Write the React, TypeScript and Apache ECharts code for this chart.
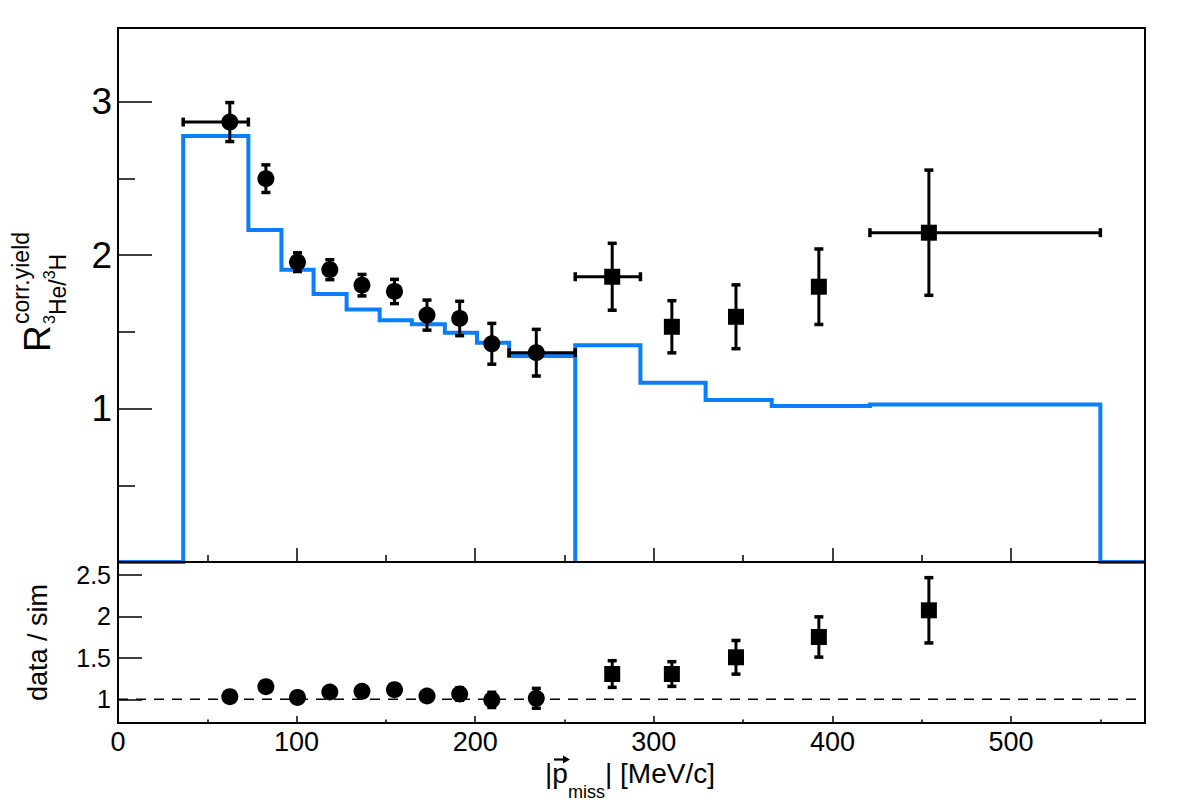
import React, { useEffect, useRef } from "react";
import * as echarts from "echarts";

// Simulated corrected-yield ratio: two histogram pieces, split at 256 MeV/c
const simEdgesLow = [36.5, 73, 91.5, 109.5, 128, 146.5, 164.5, 183, 201, 219, 256];
const simValuesLow = [2.776, 2.163, 1.905, 1.746, 1.646, 1.576, 1.55, 1.494, 1.429, 1.342];
const simEdgesHigh = [256, 292.5, 329, 366, 421, 550];
const simValuesHigh = [1.413, 1.168, 1.055, 1.016, 1.027];

// Measured ratio, low-momentum points (circles)
const circleX = [62.6, 82.8, 100.5, 118.6, 136.6, 154.8, 173.0, 191.3, 209.3, 234.2];
const circleY = [2.867, 2.498, 1.954, 1.905, 1.804, 1.763, 1.609, 1.587, 1.422, 1.364];
const circleErr = [0.127, 0.09, 0.061, 0.065, 0.07, 0.079, 0.098, 0.112, 0.133, 0.152];
const circleXRange: (number[] | null)[] = [[36.5, 73], null, null, null, null, null, null, null, null, [219, 256]];

// Measured ratio, high-momentum points (squares)
const squareX = [276.7, 310.1, 346.0, 392.4, 454.0];
const squareY = [1.859, 1.533, 1.598, 1.794, 2.146];
const squareErr = [0.218, 0.17, 0.208, 0.246, 0.408];
const squareXRange: (number[] | null)[] = [[256, 292.5], null, null, null, [421, 550]];

// data / sim
const circleRatio = [1.031, 1.152, 1.022, 1.088, 1.096, 1.116, 1.04, 1.064, 0.993, 1.012];
const circleRatioErr = [0.045, 0.04, 0.032, 0.037, 0.043, 0.05, 0.063, 0.075, 0.092, 0.12];
const squareRatio = [1.305, 1.305, 1.507, 1.752, 2.074];
const squareRatioErr = [0.161, 0.149, 0.203, 0.243, 0.394];

// Axis ranges and ticks
const X_MIN = 0;
const X_MAX = 575;
const Y_TOP_MAX = 3.48;
const Y_BOT_MIN = 0.714;
const Y_BOT_MAX = 2.657;
const xTicksMajor = [100, 200, 300, 400, 500];
const xTicksMinor = [50, 150, 250, 350, 450, 550];
const xLabels = [0, 100, 200, 300, 400, 500];
const yTopLabels = [1, 2, 3];
const yTopMinor = [0.5, 1.5, 2.5];
const yBottomLabels = [1, 1.5, 2, 2.5];

const FONT = "Liberation Sans";
const BLUE = "#0a7efd";

// Layout
const LEFT = 118;
const WIDTH = 1027;
const TOP = 28;
const TOP_H = 534;
const BOT_H = 161;

function outline(edges: number[], values: number[]) {
  const pts: number[][] = [[edges[0], 0]];
  values.forEach((v, i) => {
    pts.push([edges[i], v], [edges[i + 1], v]);
  });
  pts.push([edges[edges.length - 1], 0]);
  return pts;
}

function errorRows(xs: number[], ys: number[], errs: number[], ranges: (number[] | null)[] | null) {
  return xs.map((x, i) => {
    const r = ranges ? ranges[i] : null;
    return [x, ys[i], ys[i] - errs[i], ys[i] + errs[i], r ? r[0] : x, r ? r[1] : x];
  });
}

const renderErrorBar = (params: any, api: any) => {
  const x = api.value(0);
  const y = api.value(1);
  const lo = api.value(2);
  const hi = api.value(3);
  const xl = api.value(4);
  const xh = api.value(5);
  const top = api.coord([x, hi]);
  const bot = api.coord([x, lo]);
  const stroke = { stroke: "#000", lineWidth: 3 };
  const cap = { stroke: "#000", lineWidth: 3.5 };
  const c = 4.5;
  const children: any[] = [
    { type: "line", shape: { x1: top[0], y1: top[1], x2: bot[0], y2: bot[1] }, style: stroke },
    { type: "line", shape: { x1: top[0] - c, y1: top[1], x2: top[0] + c, y2: top[1] }, style: cap },
    { type: "line", shape: { x1: bot[0] - c, y1: bot[1], x2: bot[0] + c, y2: bot[1] }, style: cap },
  ];
  if (xh > xl) {
    const l = api.coord([xl, y]);
    const r = api.coord([xh, y]);
    children.push(
      { type: "line", shape: { x1: l[0], y1: l[1], x2: r[0], y2: r[1] }, style: stroke },
      { type: "line", shape: { x1: l[0], y1: l[1] - c, x2: l[0], y2: l[1] + c }, style: cap },
      { type: "line", shape: { x1: r[0], y1: r[1] - c, x2: r[0], y2: r[1] + c }, style: cap }
    );
  }
  return { type: "group", children };
};

const tickStyle = { color: "#000", width: 1.5 };

function xAxisDef(grid: number, ticks: number[], len: number, labels: number[] | null) {
  return {
    type: "value",
    gridIndex: grid,
    position: "bottom",
    min: X_MIN,
    max: X_MAX,
    axisLine: { show: false, onZero: false },
    splitLine: { show: false },
    axisTick: { show: true, inside: true, length: len, lineStyle: tickStyle, customValues: ticks },
    axisLabel: labels
      ? { show: true, customValues: labels, fontFamily: FONT, fontSize: 27, color: "#000", margin: 5 }
      : { show: false },
  };
}

function yAxisDef(grid: number, min: number, max: number, ticks: number[], len: number, labels: number[] | null, fontSize: number, margin: number) {
  return {
    type: "value",
    gridIndex: grid,
    position: "left",
    min,
    max,
    axisLine: { show: false, onZero: false },
    splitLine: { show: false },
    axisTick: { show: true, inside: true, length: len, lineStyle: tickStyle, customValues: ticks },
    axisLabel: labels
      ? { show: true, customValues: labels, fontFamily: FONT, fontSize, color: "#000", margin, formatter: (v: number) => String(v) }
      : { show: false },
  };
}

function txt(x: number, y: number, text: string, fontSize: number, extra: any = {}) {
  return {
    type: "text",
    x,
    y,
    silent: true,
    style: {
      text,
      fontFamily: FONT,
      fontSize,
      fill: "#000",
      align: "left",
      verticalAlign: "middle",
      textAlign: "left",
      textVerticalAlign: "middle",
      ...extra,
    },
  };
}

const markerStyle = { color: "#000", opacity: 1 };

export default function App() {
  const ref = useRef<HTMLDivElement>(null);

  useEffect(() => {
    if (!ref.current) return;
    const chart = echarts.init(ref.current, null, { renderer: "svg" });

    const simLine = [[X_MIN, 0], ...outline(simEdgesLow, simValuesLow), ...outline(simEdgesHigh, simValuesHigh), [X_MAX, 0]];

    const option: any = {
      animation: false,
      textStyle: { fontFamily: FONT },
      grid: [
        { left: LEFT, top: TOP, width: WIDTH, height: TOP_H, show: false },
        { left: LEFT, top: TOP + TOP_H, width: WIDTH, height: BOT_H, show: false },
      ],
      xAxis: [
        xAxisDef(0, xTicksMajor, 14, null),
        xAxisDef(0, xTicksMinor, 7, null),
        xAxisDef(1, xTicksMajor, 7, xLabels),
        xAxisDef(1, xTicksMinor, 3.5, null),
      ],
      yAxis: [
        yAxisDef(0, 0, Y_TOP_MAX, yTopLabels, 34, yTopLabels, 37, 6),
        yAxisDef(0, 0, Y_TOP_MAX, yTopMinor, 17, null, 37, 6),
        yAxisDef(1, Y_BOT_MIN, Y_BOT_MAX, yBottomLabels, 24, yBottomLabels, 25, 7),
      ],
      series: [
        {
          type: "line",
          xAxisIndex: 0,
          yAxisIndex: 0,
          data: simLine,
          symbol: "none",
          showSymbol: false,
          lineStyle: { color: BLUE, width: 4, join: "miter" },
          z: 2,
        },
        {
          type: "custom",
          xAxisIndex: 0,
          yAxisIndex: 0,
          renderItem: renderErrorBar,
          data: [...errorRows(circleX, circleY, circleErr, circleXRange), ...errorRows(squareX, squareY, squareErr, squareXRange)],
          encode: { x: 0, y: [1, 2, 3] },
          z: 3,
        },
        {
          type: "scatter",
          xAxisIndex: 0,
          yAxisIndex: 0,
          data: circleX.map((x, i) => [x, circleY[i]]),
          symbol: "circle",
          symbolSize: 17,
          itemStyle: markerStyle,
          z: 4,
        },
        {
          type: "scatter",
          xAxisIndex: 0,
          yAxisIndex: 0,
          data: squareX.map((x, i) => [x, squareY[i]]),
          symbol: "rect",
          symbolSize: 16,
          itemStyle: markerStyle,
          z: 4,
        },
        {
          type: "line",
          xAxisIndex: 2,
          yAxisIndex: 2,
          data: [[X_MIN, 1], [X_MAX, 1]],
          symbol: "none",
          showSymbol: false,
          lineStyle: { color: "#000", width: 1.6, type: [10, 8] },
          z: 2,
        },
        {
          type: "custom",
          xAxisIndex: 2,
          yAxisIndex: 2,
          renderItem: renderErrorBar,
          data: [...errorRows(circleX, circleRatio, circleRatioErr, null), ...errorRows(squareX, squareRatio, squareRatioErr, null)],
          encode: { x: 0, y: [1, 2, 3] },
          z: 3,
        },
        {
          type: "scatter",
          xAxisIndex: 2,
          yAxisIndex: 2,
          data: circleX.map((x, i) => [x, circleRatio[i]]),
          symbol: "circle",
          symbolSize: 17,
          itemStyle: markerStyle,
          z: 4,
        },
        {
          type: "scatter",
          xAxisIndex: 2,
          yAxisIndex: 2,
          data: squareX.map((x, i) => [x, squareRatio[i]]),
          symbol: "rect",
          symbolSize: 16,
          itemStyle: markerStyle,
          z: 4,
        },
      ],
      graphic: [
        // panel frames
        {
          type: "rect",
          silent: true,
          z: 100,
          shape: { x: LEFT, y: TOP, width: WIDTH, height: TOP_H },
          style: { fill: "none", stroke: "#000", lineWidth: 2 },
        },
        {
          type: "rect",
          silent: true,
          z: 100,
          shape: { x: LEFT, y: TOP + TOP_H, width: WIDTH, height: BOT_H },
          style: { fill: "none", stroke: "#000", lineWidth: 2 },
        },
        // upper y title: R^{corr.yield}_{3He/3H}
        {
          type: "group",
          x: 50,
          y: 352,
          rotation: Math.PI / 2,
          silent: true,
          children: [
            txt(0, -12.8, "R", 37),
            txt(28, -29, "corr.yield", 23),
            txt(28, -0.5, "3", 16),
            txt(36.9, 8, "He/", 23),
            txt(72.7, -0.5, "3", 16),
            txt(81.6, 8, "H", 23),
          ],
        },
        // lower y title
        {
          type: "text",
          x: 38.3,
          y: 642.5,
          rotation: Math.PI / 2,
          silent: true,
          style: {
            text: "data / sim",
            fontFamily: FONT,
            fontSize: 27,
            fill: "#000",
            align: "center",
            verticalAlign: "middle",
            textAlign: "center",
            textVerticalAlign: "middle",
          },
        },
        // x title: |p_miss| [MeV/c] with vector arrow over p
        txt(545, 773.3, "|", 28),
        txt(552.3, 773.3, "p", 28),
        txt(567.9, 791.8, "miss", 18),
        txt(605, 773.3, "| [MeV/c]", 28),
        {
          type: "line",
          silent: true,
          shape: { x1: 554, y1: 759.5, x2: 565, y2: 759.5 },
          style: { stroke: "#000", lineWidth: 2.2 },
        },
        {
          type: "polygon",
          silent: true,
          shape: { points: [[563, 755.5], [570, 759.5], [563, 763.5]] },
          style: { fill: "#000" },
        },
      ],
    };

    chart.setOption(option);
    return () => chart.dispose();
  }, []);

  return (
    <div
      ref={ref}
      style={{ position: "absolute", left: 0, top: 0, width: 1182, height: 805, background: "#fff" }}
    />
  );
}
